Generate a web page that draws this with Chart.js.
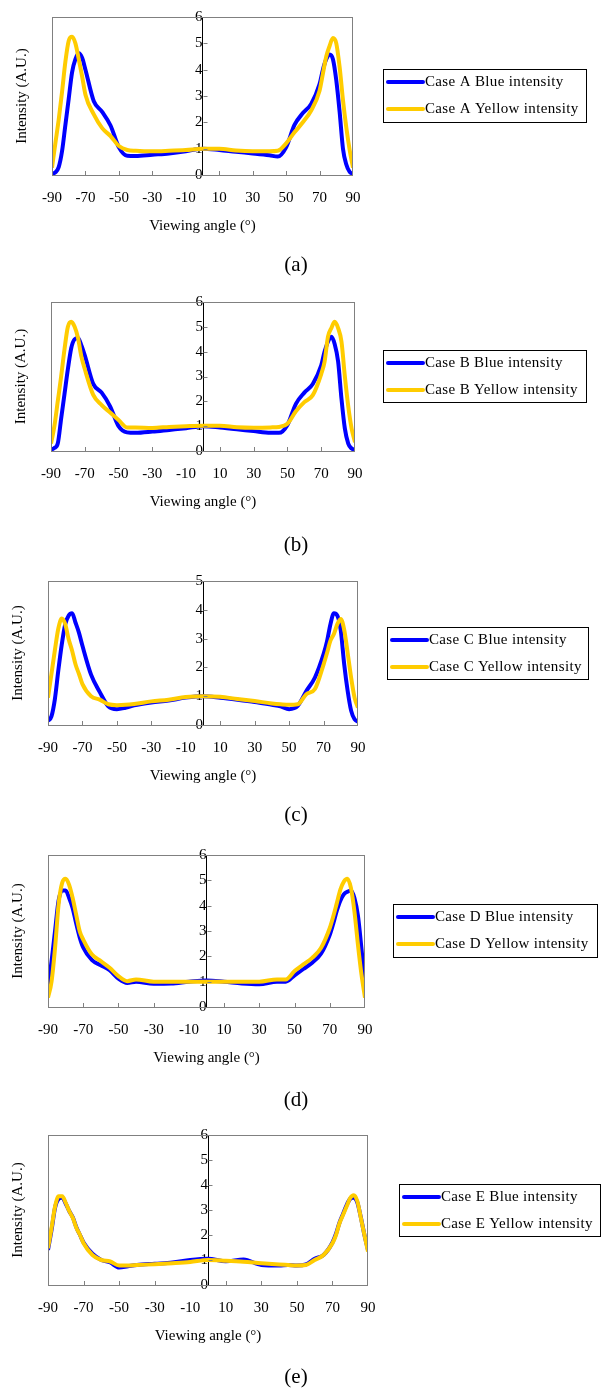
<!DOCTYPE html>
<html>
<head>
<meta charset="utf-8">
<script src="https://cdn.jsdelivr.net/npm/chart.js@4.4.1/dist/chart.umd.min.js"></script>
<style>
  body { margin: 0; background: #fff; }
  #page { position: relative; width: 602px; height: 1388px; }
  canvas { position: absolute; left: 0; }
</style>
</head>
<body>
<div id="page"></div>
<script>
// viewing angles (deg) shared by all cases
const angles = [-90, -88, -86, -84, -82, -80, -78, -76, -74, -72, -70, -65, -60, -55, -50, -45, -40, -30, -20, -10,
  0, 10, 20, 30, 40, 45, 50, 55, 60, 65, 70, 72, 74, 76, 78, 80, 82, 84, 86, 88, 90];

const aBlue = [0.05, 0.1, 0.3, 0.9, 1.9, 2.9, 3.9, 4.4, 4.62, 4.45, 4.0, 2.8, 2.4, 1.88, 1.05, 0.73, 0.72, 0.77, 0.82, 0.9,
  1.0, 0.95, 0.88, 0.82, 0.75, 0.7, 1.05, 1.9, 2.35, 2.7, 3.45, 4.0, 4.4, 4.58, 4.4, 3.6, 2.4, 1.0, 0.4, 0.12, 0.05];
const aYellow = [0.28, 1.2, 2.1, 3.15, 4.3, 5.1, 5.25, 5.0, 4.4, 3.75, 3.05, 2.3, 1.78, 1.48, 1.1, 0.95, 0.92, 0.9, 0.92, 0.95,
  1.0, 1.0, 0.93, 0.9, 0.9, 0.92, 1.2, 1.62, 2.0, 2.45, 3.2, 3.85, 4.5, 4.9, 5.2, 5.0, 4.1, 2.85, 1.8, 0.95, 0.28];

const bBlue = [0.05, 0.12, 0.3, 1.3, 2.3, 3.3, 4.15, 4.5, 4.55, 4.25, 3.85, 2.7, 2.35, 1.8, 1.0, 0.75, 0.73, 0.78, 0.85, 0.92,
  1.0, 0.95, 0.88, 0.8, 0.73, 0.73, 1.05, 1.9, 2.35, 2.7, 3.45, 4.0, 4.4, 4.6, 4.3, 3.6, 2.1, 0.9, 0.3, 0.1, 0.05];
const bYellow = [0.3, 1.0, 2.0, 3.0, 4.1, 5.0, 5.2, 5.0, 4.55, 3.8, 3.3, 2.26, 1.85, 1.55, 1.25, 0.95, 0.95, 0.93, 0.97, 1.0,
  1.02, 1.02, 0.96, 0.94, 0.95, 0.97, 1.1, 1.6, 1.97, 2.25, 3.1, 3.6, 4.6, 4.95, 5.2, 4.95, 4.4, 3.0, 1.8, 0.9, 0.35];

const cBlue = [0.14, 0.3, 0.9, 1.9, 2.8, 3.5, 3.8, 3.88, 3.55, 3.2, 2.75, 1.75, 1.15, 0.65, 0.55, 0.6, 0.68, 0.78, 0.85, 0.95,
  1.0, 0.95, 0.88, 0.8, 0.7, 0.65, 0.55, 0.66, 1.18, 1.65, 2.46, 2.9, 3.5, 3.88, 3.8, 3.28, 2.1, 1.18, 0.5, 0.2, 0.12];
const cYellow = [0.95, 1.77, 2.6, 3.35, 3.7, 3.5, 2.98, 2.58, 2.1, 1.77, 1.42, 1.0, 0.88, 0.72, 0.69, 0.7, 0.73, 0.82, 0.88, 0.97,
  1.0, 0.98, 0.9, 0.83, 0.75, 0.72, 0.7, 0.72, 1.07, 1.25, 2.1, 2.5, 2.93, 3.16, 3.5, 3.68, 3.3, 2.5, 1.65, 0.95, 0.6];

const dBlue = [0.8, 1.8, 3.0, 4.2, 4.6, 4.6, 4.3, 3.9, 3.3, 2.75, 2.35, 1.85, 1.65, 1.45, 1.12, 0.95, 1.0, 0.92, 0.93, 1.0,
  1.05, 1.0, 0.93, 0.9, 1.0, 1.0, 1.25, 1.5, 1.75, 2.1, 2.85, 3.3, 3.8, 4.2, 4.45, 4.55, 4.6, 4.3, 3.6, 2.3, 0.9];
const dYellow = [0.37, 1.0, 2.33, 4.04, 4.89, 5.06, 4.82, 4.3, 3.64, 2.99, 2.66, 2.07, 1.81, 1.55, 1.22, 1.02, 1.09, 1.0, 1.0, 1.0,
  1.0, 1.0, 1.0, 1.0, 1.09, 1.09, 1.42, 1.68, 1.94, 2.33, 3.12, 3.58, 4.1, 4.63, 4.95, 5.06, 4.7, 3.77, 2.46, 1.28, 0.37];

const eBlue = [1.4, 2.2, 3.1, 3.45, 3.5, 3.25, 2.95, 2.7, 2.3, 2.0, 1.7, 1.25, 1.0, 0.9, 0.7, 0.75, 0.8, 0.85, 0.9, 1.0,
  1.05, 0.95, 1.02, 0.8, 0.78, 0.8, 0.78, 0.82, 1.05, 1.2, 1.7, 2.05, 2.5, 2.85, 3.2, 3.45, 3.5, 3.3, 2.7, 2.0, 1.4];
const eYellow = [1.47, 2.28, 3.15, 3.55, 3.55, 3.28, 2.95, 2.68, 2.28, 2.0, 1.67, 1.2, 1.0, 0.94, 0.78, 0.78, 0.8, 0.83, 0.87, 0.92,
  1.0, 0.97, 0.93, 0.87, 0.82, 0.8, 0.78, 0.8, 1.0, 1.2, 1.67, 2.0, 2.48, 2.81, 3.15, 3.48, 3.59, 3.35, 2.68, 2.0, 1.34];

const xTickMarks = [-70, -50, -30, 10, 30, 50, 70];

const BLUE = '#0000ff';
const YELLOW = '#ffcc00';
const FONT = '"Liberation Serif", "Times New Roman", serif';

// one panel per case
const panels = [
  { name: 'A', tag: '(a)', blue: aBlue, yellow: aYellow, ymax: 6, top: 0, height: 280,
    L: 52, R: 353, T: 17, B: 175, legend: [383, 69, 203, 53], labelY: 265 },
  { name: 'B', tag: '(b)', blue: bBlue, yellow: bYellow, ymax: 6, top: 280, height: 280,
    L: 51, R: 355, T: 302, B: 451, legend: [383, 350, 203, 52], labelY: 545 },
  { name: 'C', tag: '(c)', blue: cBlue, yellow: cYellow, ymax: 5, top: 560, height: 275,
    L: 48, R: 358, T: 581, B: 725, legend: [387, 627, 201, 52], labelY: 815 },
  { name: 'D', tag: '(d)', blue: dBlue, yellow: dYellow, ymax: 6, top: 835, height: 280,
    L: 48, R: 365, T: 855, B: 1007, legend: [393, 904, 204, 53], labelY: 1100 },
  { name: 'E', tag: '(e)', blue: eBlue, yellow: eYellow, ymax: 6, top: 1115, height: 273,
    L: 48, R: 368, T: 1135, B: 1285, legend: [399, 1184, 201, 52], labelY: 1377 }
];

function toPoints(vals) {
  return angles.map((a, i) => ({ x: a, y: vals[i] }));
}

// frame, inward ticks, titles, legend, panel tag
const decor = {
  id: 'decor',
  afterDraw(chart, args, opts) {
    const p = opts.panel;
    const ctx = chart.ctx;
    const area = chart.chartArea;
    const xs = chart.scales.x, ys = chart.scales.y;
    const off = p.top;
    ctx.save();

    ctx.strokeStyle = '#808080';
    ctx.lineWidth = 1;
    ctx.strokeRect(area.left + 0.5, area.top + 0.5, area.right - area.left - 1, area.bottom - area.top);

    ctx.beginPath();
    xTickMarks.forEach(v => {
      const px = Math.round(xs.getPixelForValue(v)) + 0.5;
      ctx.moveTo(px, area.bottom);
      ctx.lineTo(px, area.bottom - 4);
    });
    const x0 = Math.round(xs.getPixelForValue(0)) + 0.5;
    for (let v = 1; v < p.ymax; v++) {
      const py = Math.round(ys.getPixelForValue(v)) + 0.5;
      ctx.moveTo(x0, py);
      ctx.lineTo(x0 + 4, py);
    }
    ctx.stroke();

    ctx.fillStyle = '#000';
    ctx.font = '15px ' + FONT;
    ctx.textAlign = 'center';
    ctx.textBaseline = 'middle';
    ctx.fillText('Viewing angle (\u00b0)', (area.left + area.right) / 2, area.bottom + 51);

    ctx.save();
    ctx.translate(area.left - 30, (area.top + area.bottom) / 2);
    ctx.rotate(-Math.PI / 2);
    ctx.fillText('Intensity (A.U.)', 0, 0);
    ctx.restore();

    ctx.font = '21px ' + FONT;
    ctx.fillText(p.tag, 296, p.labelY - off);

    const [lx, ly, lw, lh] = p.legend;
    ctx.strokeStyle = '#000';
    ctx.strokeRect(lx + 0.5, ly - off + 0.5, lw, lh);
    const rows = [
      ['Case ' + p.name + ' Blue intensity', BLUE],
      ['Case ' + p.name + ' Yellow intensity', YELLOW]
    ];
    ctx.font = '15px ' + FONT;
    ctx.letterSpacing = '0.35px';
    ctx.textAlign = 'left';
    rows.forEach((r, i) => {
      const ry = ly - off + 13 + i * 27;
      ctx.strokeStyle = r[1];
      ctx.lineWidth = 4;
      ctx.lineCap = 'round';
      ctx.beginPath();
      ctx.moveTo(lx + 5, ry);
      ctx.lineTo(lx + 40, ry);
      ctx.stroke();
      ctx.fillText(r[0], lx + 42, ry);
    });
    ctx.restore();
  }
};

const page = document.getElementById('page');

panels.forEach(p => {
  const canvas = document.createElement('canvas');
  canvas.width = 602;
  canvas.height = p.height;
  canvas.style.top = p.top + 'px';
  page.appendChild(canvas);

  const xAxisHeight = 42;
  const padTop = p.T - p.top;
  const padBottom = p.height - padTop - (p.B - p.T) - xAxisHeight;

  new Chart(canvas, {
    type: 'line',
    data: {
      datasets: [
        {
          label: 'Case ' + p.name + ' Blue intensity',
          data: toPoints(p.blue),
          borderColor: BLUE,
          borderWidth: 4,
          pointRadius: 0,
          cubicInterpolationMode: 'monotone',
          order: 2
        },
        {
          label: 'Case ' + p.name + ' Yellow intensity',
          data: toPoints(p.yellow),
          borderColor: YELLOW,
          borderWidth: 4,
          pointRadius: 0,
          cubicInterpolationMode: 'monotone',
          order: 1
        }
      ]
    },
    options: {
      responsive: false,
      animation: false,
      layout: { padding: { left: p.L, right: 602 - p.R, top: padTop, bottom: padBottom } },
      plugins: {
        legend: { display: false },
        tooltip: { enabled: false },
        decor: { panel: p }
      },
      scales: {
        x: {
          type: 'linear',
          min: -90,
          max: 90,
          ticks: { stepSize: 20, padding: 6, color: '#000', font: { family: FONT, size: 15 } },
          grid: { display: false },
          border: { display: false },
          afterFit: s => { s.height = xAxisHeight; }
        },
        y: {
          type: 'linear',
          min: 0,
          max: p.ymax,
          position: { x: 0 },
          ticks: { stepSize: 1, padding: 2, color: '#000', font: { family: FONT, size: 15 } },
          grid: { display: false },
          border: { color: '#000', width: 1 }
        }
      }
    },
    plugins: [decor]
  });
});
</script>
</body>
</html>
